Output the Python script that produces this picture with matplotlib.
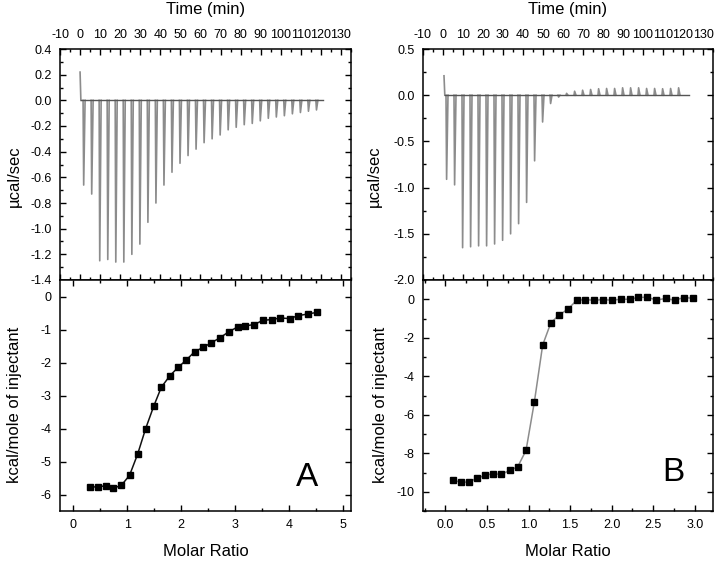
import numpy as np
import matplotlib.pyplot as plt
from matplotlib.ticker import MultipleLocator, FormatStrFormatter

plt.rcParams['font.family'] = ['Liberation Sans', 'DejaVu Sans']
plt.rcParams['axes.unicode_minus'] = False
plt.rcParams['axes.linewidth'] = 1.1

# injection times (min), shared by both runs
inj_time = [1.5, 5.5, 9.5, 13.5, 17.5, 21.5, 25.5, 29.5, 33.5, 37.5,
            41.5, 45.5, 49.5, 53.5, 57.5, 61.5, 65.5, 69.5, 73.5, 77.5,
            81.5, 85.5, 89.5, 93.5, 97.5, 101.5, 105.5, 109.5, 113.5, 117.5]

# raw heat peaks (ucal/sec)
peaks_a = [-0.66, -0.73, -1.25, -1.24, -1.26, -1.26, -1.20, -1.12, -0.95, -0.80,
           -0.66, -0.56, -0.49, -0.43, -0.38, -0.33, -0.30, -0.27, -0.23, -0.21,
           -0.19, -0.18, -0.16, -0.14, -0.13, -0.12, -0.105, -0.095, -0.085, -0.075]
peaks_b = [-0.91, -0.97, -1.65, -1.64, -1.63, -1.63, -1.61, -1.57, -1.50, -1.39,
           -1.16, -0.71, -0.29, -0.09, -0.02, 0.02, 0.043, 0.054, 0.062, 0.07,
           0.073, 0.073, 0.08, 0.08, 0.08, 0.073, 0.073, 0.07, 0.073, 0.08]
start_a, end_a = 0.22, 121.0
start_b, end_b = 0.21, 123.0

# integrated heats
ratio_a = [0.31, 0.46, 0.61, 0.74, 0.89, 1.04, 1.19, 1.34, 1.49, 1.63,
           1.79, 1.94, 2.09, 2.25, 2.41, 2.56, 2.72, 2.88, 3.05, 3.19,
           3.35, 3.52, 3.68, 3.84, 4.01, 4.17, 4.35, 4.52]
heat_a = [-5.77, -5.77, -5.73, -5.81, -5.72, -5.42, -4.78, -4.00, -3.32, -2.75,
          -2.40, -2.15, -1.93, -1.67, -1.54, -1.40, -1.25, -1.07, -0.92, -0.89,
          -0.85, -0.72, -0.70, -0.65, -0.67, -0.58, -0.53, -0.48]
ratio_b = [0.09, 0.19, 0.28, 0.38, 0.48, 0.57, 0.67, 0.78, 0.87, 0.97,
           1.07, 1.17, 1.27, 1.37, 1.48, 1.58, 1.68, 1.79, 1.90, 2.00,
           2.11, 2.22, 2.32, 2.43, 2.54, 2.65, 2.76, 2.87, 2.98]
heat_b = [-9.41, -9.50, -9.50, -9.29, -9.15, -9.06, -9.10, -8.88, -8.70, -7.85,
          -5.34, -2.38, -1.21, -0.82, -0.49, -0.05, -0.02, -0.05, -0.02, -0.05,
          0.0, 0.0, 0.10, 0.10, -0.04, 0.04, -0.05, 0.09, 0.05]


def draw_raw(ax, t0, v0, t_end, peaks):
    ax.plot([t0, t0 + 0.4], [v0, 0], color='#8c8c8c', lw=1.2)
    for t, p in zip(inj_time, peaks):
        ax.plot([t, t + 0.3, t + 1.0], [0, p, 0], color='#8c8c8c', lw=1.2)
    ax.plot([t0 + 0.4, t_end], [0, 0], color='#555555', lw=1.0)


def style(ax):
    ax.tick_params(which='both', direction='in', top=True, right=True,
                   labelsize=9, pad=6, width=1.0)
    ax.tick_params(which='major', length=4)
    ax.tick_params(which='minor', length=2)


fig = plt.figure(figsize=(7.18, 5.61), dpi=100)
W, H = 718, 561
panels = [
    dict(x0=60, x1=351, peaks=peaks_a, t0=0.0, v0=start_a, tend=end_a,
         ylim=(-1.4, 0.4), ymaj=0.2, ymin=0.1, yfmt='%.1f',
         ratio=ratio_a, heat=heat_a, rlim=(-0.25, 5.15), rmaj=1, rmin=0.5,
         rfmt='%d', hlim=(-6.5, 0.5), hmaj=1, hmin=1, ms=4, lc='#111111',
         tag='A', tagpos=(0.85, 0.145), ylx_top=-0.158, ylx_bot=-0.158),
    dict(x0=423, x1=713, peaks=peaks_b, t0=0.5, v0=start_b, tend=end_b,
         ylim=(-2.0, 0.5), ymaj=0.5, ymin=0.25, yfmt='%.1f',
         ratio=ratio_b, heat=heat_b, rlim=(-0.27, 3.22), rmaj=0.5, rmin=0.25,
         rfmt='%.1f', hlim=(-11, 1), hmaj=2, hmin=1, ms=5, lc='#8c8c8c',
         tag='B', tagpos=(0.862, 0.168), ylx_top=-0.166, ylx_bot=-0.148),
]

for p in panels:
    left = p['x0'] / W
    width = (p['x1'] - p['x0']) / W
    ax_top = fig.add_axes([left, 1 - 280 / H, width, 231 / H])
    ax_bot = fig.add_axes([left, 1 - 511 / H, width, 231 / H])

    draw_raw(ax_top, p['t0'], p['v0'], p['tend'], p['peaks'])
    ax_top.set_xlim(-10, 135)
    ax_top.set_ylim(*p['ylim'])
    ax_top.xaxis.set_major_locator(MultipleLocator(10))
    ax_top.xaxis.set_minor_locator(MultipleLocator(5))
    ax_top.yaxis.set_major_locator(MultipleLocator(p['ymaj']))
    ax_top.yaxis.set_minor_locator(MultipleLocator(p['ymin']))
    ax_top.yaxis.set_major_formatter(FormatStrFormatter(p['yfmt']))
    style(ax_top)
    ax_top.tick_params(axis='x', labeltop=True, labelbottom=False)
    ax_top.xaxis.set_label_position('top')
    ax_top.set_xlabel('Time (min)', fontsize=12, va='center')
    ax_top.xaxis.set_label_coords(0.5, 1.169)
    ax_top.set_ylabel('µcal/sec', fontsize=12, va='center')
    ax_top.yaxis.set_label_coords(p['ylx_top'], 0.45)

    ax_bot.plot(p['ratio'], p['heat'], color=p['lc'], lw=1.1, marker='s',
                ms=p['ms'], mfc='black', mec='black')
    ax_bot.set_xlim(*p['rlim'])
    ax_bot.set_ylim(*p['hlim'])
    ax_bot.xaxis.set_major_locator(MultipleLocator(p['rmaj']))
    ax_bot.xaxis.set_minor_locator(MultipleLocator(p['rmin']))
    ax_bot.xaxis.set_major_formatter(FormatStrFormatter(p['rfmt']))
    ax_bot.yaxis.set_major_locator(MultipleLocator(p['hmaj']))
    ax_bot.yaxis.set_minor_locator(MultipleLocator(p['hmin']))
    style(ax_bot)
    ax_bot.set_xlabel('Molar Ratio', fontsize=12, va='center')
    ax_bot.xaxis.set_label_coords(0.5, -0.177)
    ax_bot.set_ylabel('kcal/mole of injectant', fontsize=12, va='center')
    ax_bot.yaxis.set_label_coords(p['ylx_bot'], 0.46)
    ax_bot.text(p['tagpos'][0], p['tagpos'][1], p['tag'], fontsize=24,
                ha='center', va='center', transform=ax_bot.transAxes)

fig.savefig('out.png', dpi=100)
